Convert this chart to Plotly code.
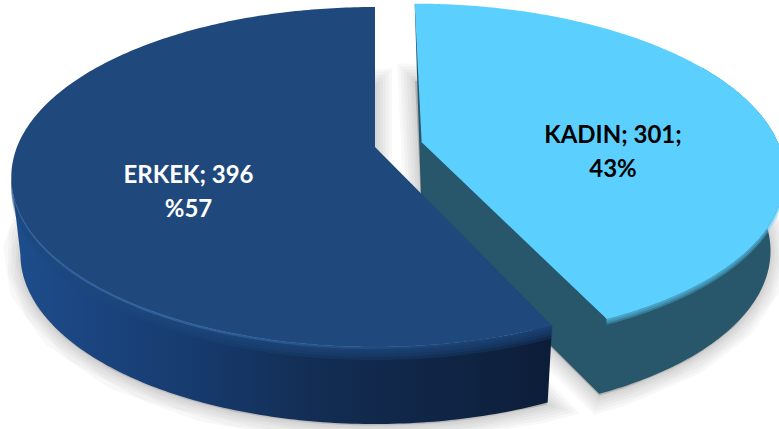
import numpy as np
import plotly.graph_objects as go

# Data
categories = ['ERKEK', 'KADIN']
values = [396, 301]
first_lines = ['ERKEK; 396', 'KADIN; 301;']
second_lines = ['%57', '43%']

FACE = {'ERKEK': '#1F497D', 'KADIN': '#5BD0FF'}
WALL = {'ERKEK': '#0F2340', 'KADIN': '#28566A'}
DEPTH = {'ERKEK': 77, 'KADIN': 75}
WIDTH, HEIGHT = 779, 429

# Perspective set-up of the tilted disc
CX, CY = 375, 147
FX, FY = 358, 164.7
K = 0.1765
EXPLODE = 0.134

split = 360 * values[1] / sum(values)


def project(theta, radius=1.0, offset=(0.0, 0.0)):
    """Map clockwise-from-top angles on the disc to screen positions"""
    t = np.radians(theta)
    wx = radius * np.sin(t) + offset[0]
    wy = radius * np.cos(t) + offset[1]
    den = 1 + K * wy
    return CX + FX * wx / den, CY - FY * wy / den


def drop(xs, ys, depth, pivot=CX, squeeze=0.975):
    """Same points on the underside of the disc"""
    return pivot + (np.asarray(xs) - pivot) * squeeze, np.asarray(ys) + depth


def polygon(xs, ys, color=None, gradient=None, opacity=None):
    trace = dict(x=list(xs), y=list(ys), mode='none', fill='toself',
                 hoverinfo='skip', showlegend=False)
    if gradient:
        trace['fillgradient'] = dict(type='horizontal', colorscale=gradient)
    else:
        trace['fillcolor'] = color
    if opacity:
        trace['opacity'] = opacity
    return go.Scatter(**trace)


def shadow_layers(xs, ys):
    """Soft drop shadow from stacked wide translucent outlines"""
    xs = np.r_[xs, xs[0]]
    ys = np.r_[ys, ys[0]]
    layers = []
    for w in [34, 28, 22, 16, 10, 5]:
        layers.append(go.Scatter(x=list(xs), y=list(ys), mode='lines', fill='toself',
                                 line=dict(color='rgba(0,0,0,0.027)', width=w),
                                 fillcolor='rgba(0,0,0,0.027)',
                                 hoverinfo='skip', showlegend=False))
    return layers


def soft_rim(xs, ys, color, steps):
    """Blurred step from the top face down onto the side wall"""
    layers = []
    for t in steps:
        bx = np.r_[xs, xs[::-1]]
        by = np.r_[ys, (ys + t)[::-1]]
        layers.append(polygon(bx, by, color=color, opacity=0.3))
    return layers


offset = (EXPLODE * np.sin(np.radians(split / 2)), EXPLODE * np.cos(np.radians(split / 2)))

# outlines
th_k = np.linspace(0, split, 200)
kx, ky = project(th_k, offset=offset)
ax, ay = project(0.0, radius=0.0, offset=offset)
th_e = np.linspace(split, 360, 260)
ex, ey = project(th_e)
apx, apy = project(0.0, radius=0.0)

fig = go.Figure()

# shadows first, both slices sit on them
bex, bey = drop(np.r_[apx, ex], np.r_[apy, ey], DEPTH['ERKEK'] + 2)
bkx, bky = drop(np.r_[ax, kx], np.r_[ay, ky], DEPTH['KADIN'] + 2, pivot=ax, squeeze=0.96)
for tr in shadow_layers(bkx, bky) + shadow_layers(bex, bey):
    fig.add_trace(tr)

# KADIN wall as one outline so no seams show, face on top
dk = DEPTH['KADIN']
sel = th_k >= 60
sx, sy = kx[sel], ky[sel]
dx, dy = drop(sx, sy, dk, pivot=ax, squeeze=0.96)
fig.add_trace(polygon(np.r_[kx[0], ax, dx[::-1], sx, kx[0]],
                      np.r_[ky[0], ay + dk, dy[::-1], sy, ky[0]], color=WALL['KADIN']))
for tr in soft_rim(sx, sy, FACE['KADIN'], [6, 4, 2]):
    fig.add_trace(tr)
fig.add_trace(polygon(np.r_[ax, kx], np.r_[ay, ky], color=FACE['KADIN']))

# ERKEK wall with its left to right falloff, then rim and face
sel = th_e <= th_e[np.argmin(ex)]
sx, sy = ex[sel], ey[sel]
dx, dy = drop(sx, sy, DEPTH['ERKEK'])
fig.add_trace(polygon(np.r_[sx, dx[::-1]], np.r_[sy, dy[::-1]],
                      gradient=[[0, '#1D4E8C'], [0.14, '#1B4580'], [0.35, '#163A6C'],
                                [0.6, '#122B50'], [0.85, '#0F2342'], [1, '#0C1D38']]))
for tr in soft_rim(sx, sy, FACE['ERKEK'], [13, 10, 7, 4, 2]):
    fig.add_trace(tr)
fig.add_trace(polygon(np.r_[apx, ex], np.r_[apy, ey], color=FACE['ERKEK']))

# highlight running along the ERKEK rim, fading to the right
fig.add_trace(polygon(np.r_[sx, sx[::-1]], np.r_[sy - 0.5, (sy + 2)[::-1]],
                      gradient=[[0, 'rgba(70,125,195,0.45)'], [0.35, 'rgba(70,125,195,0.45)'],
                                [0.85, 'rgba(70,125,195,0)'], [1, 'rgba(70,125,195,0)']]))

# labels
label_x = [188.5, 613]
label_y = [176.5, 136.5]
line_gap = 34
label_colors = ['#FFFFFF', '#000000']
for lines, shift in ((first_lines, 0), (second_lines, line_gap)):
    fig.add_trace(go.Scatter(x=label_x, y=[v + shift for v in label_y], mode='text', text=lines,
                             textposition='middle center',
                             textfont=dict(family='Lato', size=24, weight=700, color=label_colors),
                             hoverinfo='skip', showlegend=False))

fig.update_xaxes(range=[0, WIDTH], visible=False, fixedrange=True)
fig.update_yaxes(range=[HEIGHT, 0], visible=False, fixedrange=True)
fig.update_layout(width=WIDTH, height=HEIGHT, margin=dict(l=0, r=0, t=0, b=0),
                  paper_bgcolor='white', plot_bgcolor='white', showlegend=False)

fig.write_html("out.html", config=dict(displayModeBar=False),
               post_script="document.body.style.margin='0';")
